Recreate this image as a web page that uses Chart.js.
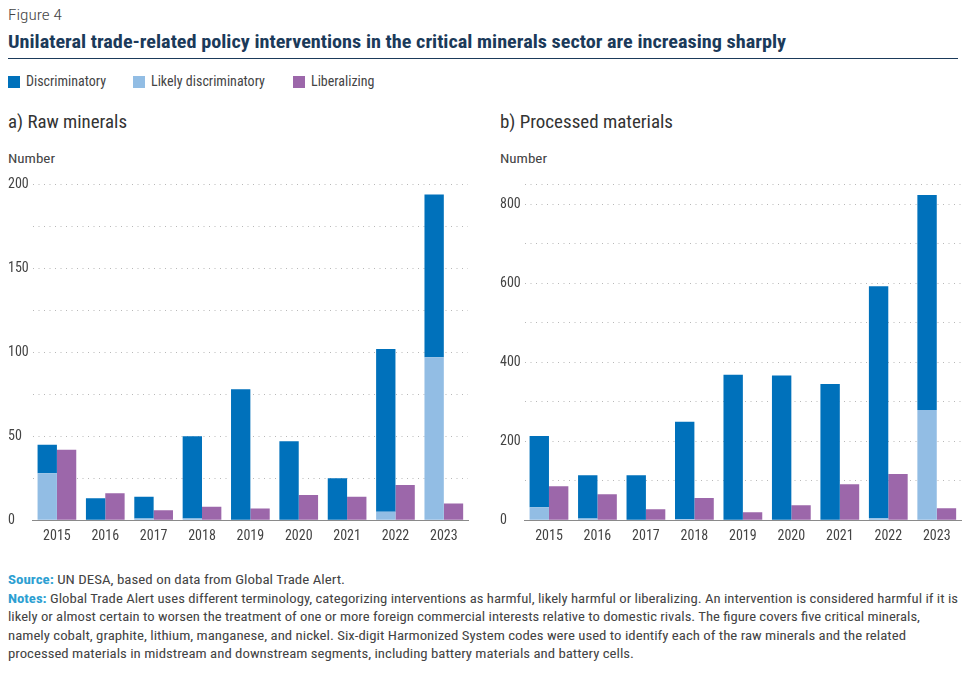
<!DOCTYPE html>
<html>
<head>
<meta charset="utf-8">
<script src="https://cdn.jsdelivr.net/npm/chart.js@4/dist/chart.umd.min.js"></script>
<style>
  html, body { margin:0; padding:0; background:#fff; }
  body { width:969px; height:674px; position:relative; overflow:hidden;
         font-family: "Roboto Condensed", "Liberation Sans Narrow", Roboto, sans-serif; color:#333; }
  .abs { position:absolute; white-space:nowrap; }
  .fit { display:inline-block; transform-origin:0 50%; }
  #fig { left:8px; top:6px; font-size:15px; color:#444; font-weight:300; }
  #title { left:8px; top:30px; font-size:19px; font-weight:700; color:#1b3a5a; }
  #rule { position:absolute; left:8px; top:58px; width:950px; height:0; border-top:1.5px solid #1b3a5a; }
  #legend { left:8px; top:73px; font-size:14px; color:#444; }
  .li { position:absolute; top:0; white-space:nowrap; }
  .sw { position:absolute; top:3px; width:12px; height:12px; }
  .lt { position:absolute; top:0; left:18px; }
  .sub { font-size:18px; color:#333; top:111px; }
  .num { font-size:13px; color:#444; top:151px; }
  canvas { position:absolute; }
  #notes { left:8px; top:571px; font-size:13px; line-height:18.6px; color:#444; }
  #notes b { color:#2d9fd2; }
</style>
</head>
<body>
<div id="fig" class="abs"><span class="fit" data-w="54">Figure 4</span></div>
<div id="title" class="abs"><span class="fit" data-w="778">Unilateral trade-related policy interventions in the critical minerals sector are increasing sharply</span></div>
<div id="rule"></div>
<div id="legend" class="abs"></div>
<div class="abs sub" style="left:8px;"><span class="fit" data-w="119">a) Raw minerals</span></div>
<div class="abs sub" style="left:500px;"><span class="fit" data-w="173">b) Processed materials</span></div>
<div class="abs num" style="left:8px;"><span class="fit" data-w="47">Number</span></div>
<div class="abs num" style="left:500px;"><span class="fit" data-w="47">Number</span></div>
<canvas id="c1" width="477" height="373" style="left:0px;top:174px;width:477px;height:373px;"></canvas>
<canvas id="c2" width="477" height="373" style="left:492px;top:174px;width:477px;height:373px;"></canvas>
<div id="notes" class="abs">
<span class="fit nl" data-w="337"><b>Source:</b> UN DESA, based on data from Global Trade Alert.</span><br>
<span class="fit nl" data-w="950"><b>Notes:</b> Global Trade Alert uses different terminology, categorizing interventions as harmful, likely harmful or liberalizing. An intervention is considered harmful if it is</span><br>
<span class="fit nl" data-w="912">likely or almost certain to worsen the treatment of one or more foreign commercial interests relative to domestic rivals. The figure covers five critical minerals,</span><br>
<span class="fit nl" data-w="898">namely cobalt, graphite, lithium, manganese, and nickel. Six-digit Harmonized System codes were used to identify each of the raw minerals and the related</span><br>
<span class="fit nl" data-w="626">processed materials in midstream and downstream segments, including battery materials and battery cells.</span>
</div>
<script>
// ---- Data ----
const years = ['2015','2016','2017','2018','2019','2020','2021','2022','2023'];
const seriesNames = ['Discriminatory','Likely discriminatory','Liberalizing'];
const seriesColors = ['#0071bb','#92bde4','#9c67aa'];

const rawDiscriminatory = [17, 13, 13, 49, 78, 47, 25, 97, 97];
const rawLikely         = [28, 0, 1, 1, 0, 0, 0, 5, 97];
const rawLiberalizing   = [42, 16, 6, 8, 7, 15, 14, 21, 10];

const procDiscriminatory = [180, 110, 114, 246, 368, 366, 345, 587, 544];
const procLikely         = [33, 4, 0, 3, 0, 0, 0, 5, 279];
const procLiberalizing   = [86, 66, 28, 56, 20, 38, 91, 117, 30];

const rawTicks  = [0, 50, 100, 150, 200];
const procTicks = [0, 200, 400, 600, 800];

// ---- Legend ----
const leg = document.getElementById('legend');
const legX = [0, 125, 285];
seriesNames.forEach((n,i)=>{
  const d = document.createElement('div');
  d.className='li'; d.style.left = legX[i]+'px';
  d.innerHTML = '<span class="sw" style="background:'+seriesColors[i]+'"></span><span class="lt">'+n+'</span>';
  leg.appendChild(d);
});

// ---- Fit condensed text ----
document.querySelectorAll('.fit').forEach(el=>{
  const w = el.getBoundingClientRect().width;
  const t = parseFloat(el.dataset.w);
  if (w > 0 && t) el.style.transform = 'scaleX(' + (t/w) + ')';
});

const FONT = "'Roboto Condensed', 'Liberation Sans Narrow', Roboto, sans-serif";

function makeChart(id, disc, likely, lib, max, step, labelTicks, padRight) {
  return new Chart(document.getElementById(id), {
    type: 'bar',
    data: {
      labels: years,
      datasets: [
        { label: seriesNames[1], data: likely, backgroundColor: seriesColors[1], stack: 'd' },
        { label: seriesNames[0], data: disc,   backgroundColor: seriesColors[0], stack: 'd' },
        { label: seriesNames[2], data: lib,    backgroundColor: seriesColors[2], stack: 'l' }
      ]
    },
    options: {
      responsive: false,
      animation: false,
      events: [],
      layout: { padding: { left: 8, right: padRight, top: 8, bottom: 2 } },
      plugins: { legend: { display: false }, tooltip: { enabled: false } },
      datasets: { bar: { categoryPercentage: 0.8, barPercentage: 1.0, borderWidth: 0 } },
      scales: {
        x: {
          stacked: true,
          grid: { display: false },
          border: { display: true, color: '#8a8a8a', width: 1 },
          ticks: { color: '#444', font: { family: FONT, size: 14 }, padding: 0, maxRotation: 0 }
        },
        y: {
          stacked: true,
          min: 0, max: max,
          grid: { color: '#b8b8b8', lineWidth: 1, drawTicks: false },
          border: { display: false, dash: [1, 4.5] },
          ticks: {
            stepSize: step,
            color: '#444',
            font: { family: FONT, size: 14 },
            padding: 2,
            crossAlign: 'far',
            callback: (v) => labelTicks.includes(v) ? String(v) : ''
          }
        }
      }
    }
  });
}

makeChart('c1', rawDiscriminatory, rawLikely, rawLiberalizing, 200, 25, rawTicks, 9);
makeChart('c2', procDiscriminatory, procLikely, procLiberalizing, 850, 100, procTicks, 8);
</script>
</body>
</html>
